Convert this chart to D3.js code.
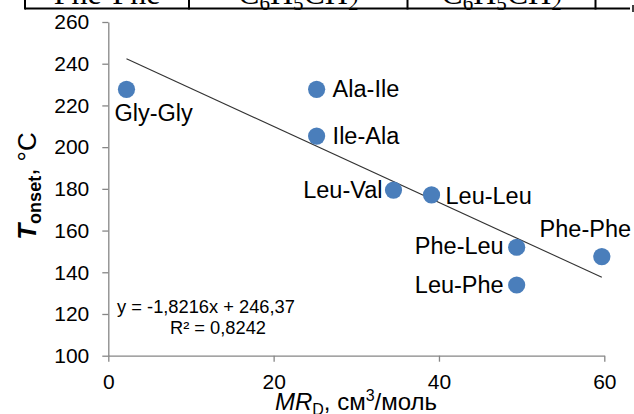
<!DOCTYPE html>
<html>
<head>
<meta charset="utf-8">
<script src="https://cdn.jsdelivr.net/npm/d3@7"></script>
<style>
  html, body { margin: 0; padding: 0; background: #fff; }
  svg { display: block; }
  text { font-family: "Liberation Sans", Arial, sans-serif; fill: #000; }
</style>
</head>
<body>
<svg id="chart" width="634" height="414"></svg>
<script>
// Dipeptides: molar refraction MR_D vs. onset temperature of decomposition
const peptides = ["Gly-Gly", "Ala-Ile", "Ile-Ala", "Leu-Val", "Leu-Leu", "Phe-Leu", "Leu-Phe", "Phe-Phe"];
const mrD      = [2.2, 25.2, 25.2, 34.5, 39.1, 49.4, 49.4, 59.7];
const tOnset   = [227.7, 227.7, 205.3, 179.4, 177.1, 152.0, 133.9, 147.5];

// Linear trend line as reported on the chart
const trendSlope = -1.8216;
const trendIntercept = 246.37;
const trendEquation = "y = -1,8216x  + 246,37";
const trendR2 = "R² = 0,8242";

const xTicks = [0, 20, 40, 60];
const yTicks = [100, 120, 140, 160, 180, 200, 220, 240, 260];

// Last row of the table above the chart (cut at the top edge)
const tableRow = ["Phe-Phe", "C6H5CH2", "C6H5CH2"];

const svg = d3.select("#chart");
const axisColor = "#868686";
const pointColor = "#4A7EBB";

const x = d3.scaleLinear().domain([0, 60]).range([108.3, 604.3]);
const y = d3.scaleLinear().domain([100, 260]).range([355.7, 22]);

// ---- table fragment ----
const table = svg.append("g");
const colEdges = [25, 189, 407.5, 595.5];
table.append("line").attr("x1", 25).attr("x2", 630).attr("y1", 8.5).attr("y2", 8.5)
  .attr("stroke", "#000").attr("stroke-width", 2);
colEdges.forEach(cx => {
  table.append("line").attr("x1", cx).attr("x2", cx).attr("y1", 0).attr("y2", 9.5)
    .attr("stroke", "#000").attr("stroke-width", 2);
});
table.append("line").attr("x1", 633).attr("x2", 633).attr("y1", 5).attr("y2", 12)
  .attr("stroke", "#000").attr("stroke-width", 1.5);

function formulaTspans(t, s) {
  // letters at full size, digits lowered as subscripts
  const parts = s.match(/[A-Za-z\-]+|\d+/g);
  let shift = 0;
  parts.forEach(p => {
    const isSub = /^\d+$/.test(p);
    const target = isSub ? 6 : 0;
    const ts = t.append("tspan").attr("dy", target - shift).text(p);
    if (isSub) ts.attr("font-size", 21);
    shift = target;
  });
}
tableRow.forEach((s, i) => {
  const cx = (colEdges[i] + colEdges[i + 1]) / 2;
  const t = table.append("text")
    .attr("x", cx).attr("y", 3.5)
    .attr("text-anchor", "middle")
    .style("font-family", "'Liberation Serif', 'Times New Roman', serif")
    .attr("font-size", 32);
  formulaTspans(t, s);
});

// ---- axes ----
const xAxis = d3.axisBottom(x).tickValues(xTicks).tickSize(6).tickSizeOuter(0).tickPadding(12.3);
const yAxis = d3.axisLeft(y).tickValues(yTicks).tickSize(6).tickSizeOuter(0).tickPadding(13);

const gx = svg.append("g").attr("transform", `translate(0,${y(100)})`).call(xAxis);
const gy = svg.append("g").attr("transform", `translate(${x(0)},0)`).call(yAxis);

[gx, gy].forEach(g => {
  g.select(".domain").attr("stroke", axisColor).attr("stroke-width", 1.3);
  g.selectAll(".tick line").attr("stroke", axisColor).attr("stroke-width", 1.3);
  g.selectAll(".tick text")
    .attr("font-size", 21)
    .style("font-family", "'Liberation Sans', Arial, sans-serif")
    .attr("fill", "#000");
});

// ---- trend line ----
const xMin = d3.min(mrD), xMax = d3.max(mrD);
svg.append("line")
  .attr("x1", x(xMin)).attr("y1", y(trendSlope * xMin + trendIntercept))
  .attr("x2", x(xMax)).attr("y2", y(trendSlope * xMax + trendIntercept))
  .attr("stroke", "#333").attr("stroke-width", 1.1);

// ---- points ----
const pts = peptides.map((name, i) => ({ name, mr: mrD[i], t: tOnset[i] }));
svg.append("g").selectAll("circle").data(pts).join("circle")
  .attr("cx", d => x(d.mr)).attr("cy", d => y(d.t))
  .attr("r", 8.6).attr("fill", pointColor);

// ---- point labels ----
const labelPlacement = {
  "Gly-Gly": { anchor: "start",  dx: -12,   dy: 32 },
  "Ala-Ile": { anchor: "start",  dx: 16,    dy: 8 },
  "Ile-Ala": { anchor: "start",  dx: 16,    dy: 8 },
  "Leu-Val": { anchor: "end",    dx: -11,   dy: 8 },
  "Leu-Leu": { anchor: "start",  dx: 14,    dy: 9.5 },
  "Phe-Leu": { anchor: "end",    dx: -13,   dy: 7 },
  "Leu-Phe": { anchor: "end",    dx: -13,   dy: 8 },
  "Phe-Phe": { anchor: "middle", dx: -16.5, dy: -19.5 }
};
svg.append("g").selectAll("text").data(pts).join("text")
  .attr("x", d => x(d.mr) + labelPlacement[d.name].dx)
  .attr("y", d => y(d.t) + labelPlacement[d.name].dy)
  .attr("text-anchor", d => labelPlacement[d.name].anchor)
  .attr("font-size", 23.5)
  .text(d => d.name);

// ---- trend equation ----
const eqCenter = 206;
svg.append("text").attr("x", eqCenter).attr("y", 313).attr("text-anchor", "middle")
  .attr("font-size", 18.3).text(trendEquation);
svg.append("text").attr("x", eqCenter + 12).attr("y", 334).attr("text-anchor", "middle")
  .attr("font-size", 18.3).text(trendR2);

// ---- axis titles ----
const yTitle = svg.append("text")
  .attr("transform", "translate(36,186) rotate(-90)")
  .attr("text-anchor", "middle")
  .attr("font-size", 26);
yTitle.append("tspan").attr("font-weight", "bold").attr("font-style", "italic").text("T");
yTitle.append("tspan").attr("font-weight", "bold").attr("font-size", 18).attr("dy", 5).text("onset");
yTitle.append("tspan").attr("dy", -5).text(", °C");

const xTitle = svg.append("text")
  .attr("x", 356).attr("y", 410)
  .attr("text-anchor", "middle")
  .attr("font-size", 24);
xTitle.append("tspan").attr("font-style", "italic").text("MR");
xTitle.append("tspan").attr("font-size", 16).attr("dy", 5).text("D");
xTitle.append("tspan").attr("dy", -5).text(", см");
xTitle.append("tspan").attr("font-size", 16).attr("dy", -9).text("3");
xTitle.append("tspan").attr("dy", 9).text("/моль");
</script>
</body>
</html>
